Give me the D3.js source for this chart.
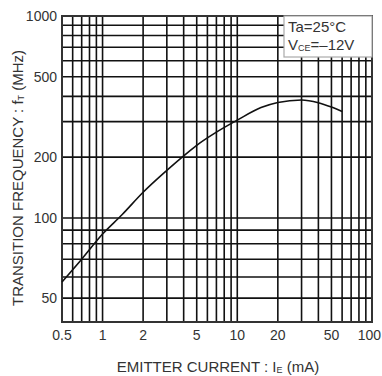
<!DOCTYPE html>
<html>
<head>
<meta charset="utf-8">
<script src="https://cdn.jsdelivr.net/npm/d3@7/dist/d3.min.js"></script>
<style>
  body { margin: 0; background: #fff; }
  text { font-family: "Liberation Sans", Arial, sans-serif; fill: #333; }
  .grid line { stroke: #111; stroke-width: 1.6; }
</style>
</head>
<body>
<div id="chart"></div>
<script>
// emitter current (mA) vs transition frequency (MHz)
var emitterCurrent = [0.5, 0.7, 1, 1.4, 2, 3, 4, 5, 7, 10, 15, 20, 30, 40, 50, 60];
var transFreq = [57.5, 70, 87, 104, 134, 172, 203, 229, 266, 305, 352, 373, 384, 372, 354, 337];

var xTicks = [0.5, 1, 2, 5, 10, 20, 50, 100];
var yTicks = [50, 100, 200, 500, 1000];
var xGrid = [0.5, 0.6, 0.7, 0.8, 0.9, 1, 2, 3, 4, 5, 6, 7, 8, 9, 10, 20, 30, 40, 50, 60, 70, 80, 90, 100];
var yGrid = [50, 60, 70, 80, 90, 100, 200, 300, 400, 500, 600, 700, 800, 900, 1000];
var legendLines = [["Ta=25°C", ""], ["V", "CE", "=–12V"]];

var margin = { top: 16, right: 10, bottom: 54, left: 62 },
    width = 382 - margin.left - margin.right,
    height = 376 - margin.top - margin.bottom;

var svg = d3.select("#chart").append("svg")
    .attr("width", 382)
    .attr("height", 376)
    .append("g")
    .attr("transform", "translate(" + margin.left + "," + margin.top + ")");

var x = d3.scaleLog().domain([0.5, 100]).range([0, width]);
// the printed grid is stretched below 100 MHz, so the scale is piecewise
var y = d3.scaleLog()
    .domain([40.5, 50, 100, 1000])
    .range([height, height * 0.922, height * 0.66, 0]);

var grid = svg.append("g").attr("class", "grid");

grid.selectAll(".vline")
    .data(xGrid)
    .enter().append("line")
    .attr("x1", function(d) { return x(d); })
    .attr("x2", function(d) { return x(d); })
    .attr("y1", 0)
    .attr("y2", height);

grid.selectAll(".hline")
    .data(yGrid)
    .enter().append("line")
    .attr("x1", 0)
    .attr("x2", width)
    .attr("y1", function(d) { return y(d); })
    .attr("y2", function(d) { return y(d); });

svg.append("rect")
    .attr("width", width)
    .attr("height", height)
    .attr("fill", "none")
    .attr("stroke", "#333")
    .attr("stroke-width", 2);

var line = d3.line()
    .x(function(d) { return x(d[0]); })
    .y(function(d) { return y(d[1]); })
    .curve(d3.curveMonotoneX);

svg.append("path")
    .datum(d3.zip(emitterCurrent, transFreq))
    .attr("d", line)
    .attr("fill", "none")
    .attr("stroke", "#111")
    .attr("stroke-width", 1.6);

// legend box in the top right corner
var lg = svg.append("g").attr("transform", "translate(" + (width - 88) + ",0)");
lg.append("rect")
    .attr("width", 88)
    .attr("height", 41)
    .attr("fill", "#fff")
    .attr("stroke", "#aaa")
    .attr("stroke-width", 1.2);

var lt = lg.selectAll(".ltext")
    .data(legendLines)
    .enter().append("text")
    .attr("x", 4)
    .attr("y", function(d, i) { return 16 + i * 18; })
    .style("font-size", "15px");
lt.append("tspan").text(function(d) { return d[0]; });
lt.filter(function(d) { return d.length > 2; })
    .append("tspan")
    .style("font-size", "9px")
    .attr("dy", 1)
    .text(function(d) { return d[1]; });
lt.filter(function(d) { return d.length > 2; })
    .append("tspan")
    .attr("dy", -1)
    .text(function(d) { return d[2]; });

svg.selectAll(".ylab")
    .data(yTicks)
    .enter().append("text")
    .attr("x", -5)
    .attr("y", function(d) { return y(d); })
    .attr("dy", "0.36em")
    .style("text-anchor", "end")
    .style("font-size", "14px")
    .text(function(d) { return d; });

// last label would run off the page, so it is pinned to the right edge
svg.selectAll(".xlab")
    .data(xTicks)
    .enter().append("text")
    .attr("x", function(d, i) { return i == xTicks.length - 1 ? width + margin.right - 1 : x(d); })
    .attr("y", height + 18)
    .style("text-anchor", function(d, i) { return i == xTicks.length - 1 ? "end" : "middle"; })
    .style("font-size", "14px")
    .text(function(d) { return d; });

var xt = svg.append("text")
    .attr("x", width / 2 + 1)
    .attr("y", height + 50)
    .style("text-anchor", "middle")
    .style("font-size", "15px");
xt.append("tspan").text("EMITTER CURRENT : I");
xt.append("tspan").style("font-size", "9px").attr("dy", 1).text("E");
xt.append("tspan").attr("dy", -1).text(" (mA)");

var yt = svg.append("text")
    .attr("transform", "translate(" + (23 - margin.left) + "," + (height / 2 + 9) + ") rotate(-90)")
    .style("text-anchor", "middle")
    .style("font-size", "15px");
yt.append("tspan").text("TRANSITION FREQUENCY : f");
yt.append("tspan").style("font-size", "9px").attr("dy", 1).text("T");
yt.append("tspan").attr("dy", -1).text(" (MHz)");
</script>
</body>
</html>
